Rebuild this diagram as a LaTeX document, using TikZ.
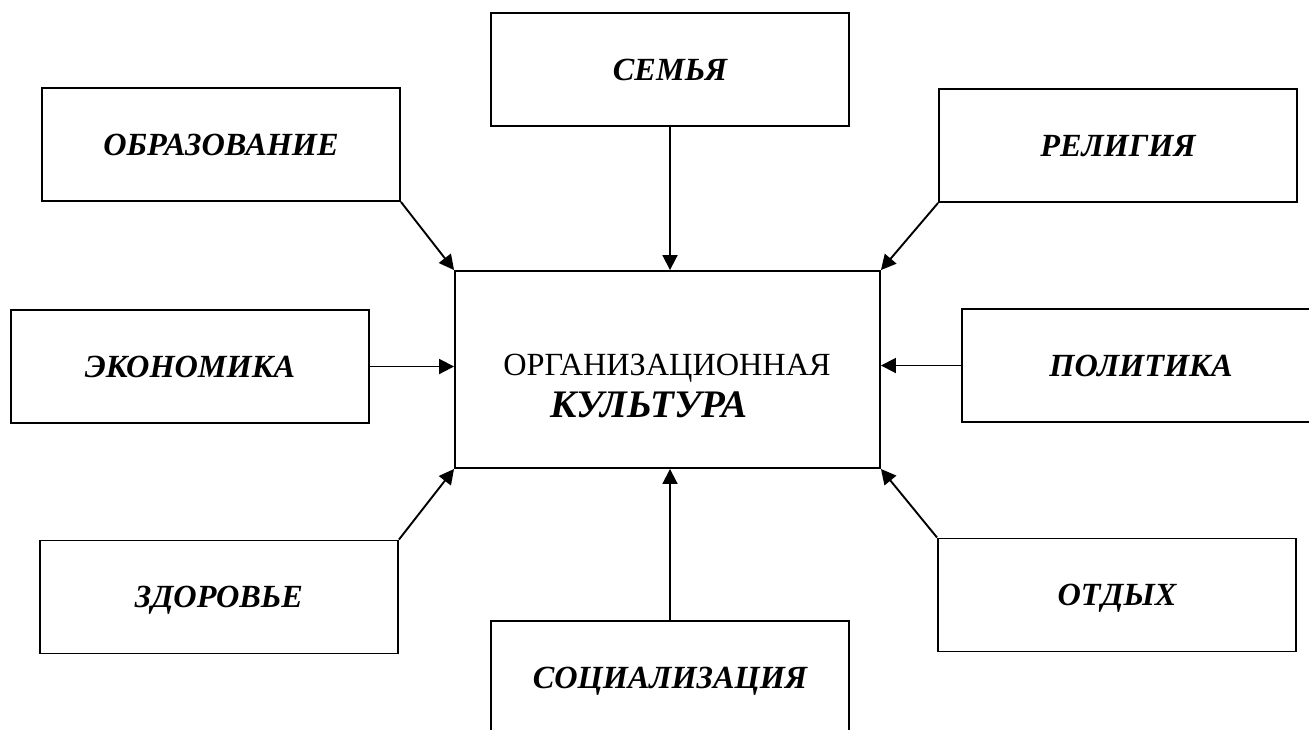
\documentclass[tikz,border=0pt]{standalone}
\usepackage{fontspec}
\setmainfont{Liberation Serif}
\usetikzlibrary{arrows.meta}
\begin{document}
\begin{tikzpicture}[x=1pt,y=-1pt,
  box/.style={draw,line width=1.9pt,minimum width=358pt,minimum height=113pt,inner sep=0pt,
    font=\fontsize{32.3}{38}\selectfont\bfseries\itshape,text height=21pt,text depth=0pt},
  link/.style={line width=1.9pt,-{Triangle[length=15pt,width=15pt]}}]
\useasboundingbox (0,0) rectangle (1309,729);
\clip (0,0) rectangle (1309,729);
\fill[white] (0,0) rectangle (1309,729);
\node[box] (semya) at (670,69.5) {СЕМЬЯ};
\node[box] (obr) at (221,144.5) {ОБРАЗОВАНИЕ};
\node[box] (rel) at (1118,145.5) {РЕЛИГИЯ};
\node[box] (econ) at (190,366.5) {ЭКОНОМИКА};
\node[box] (polit) at (1141,365.5) {ПОЛИТИКА};
\node[box] (zdor) at (219,597) {ЗДОРОВЬЕ};
\node[box] (otdyh) at (1117,595) {ОТДЫХ};
\node[box] (soc) at (670,677.5) {СОЦИАЛИЗАЦИЯ};
\node[draw,line width=1.9pt,minimum width=425pt,minimum height=197pt,inner sep=0pt] (cult) at (667.5,369.5) {};
\node[anchor=base,font=\fontsize{32.3}{38}\selectfont] (org) at (667,375) {ОРГАНИЗАЦИОННАЯ};
\node[anchor=base,font=\fontsize{39}{46}\selectfont\bfseries\itshape] (kult) at (649,417) {КУЛЬТУРА};
\draw[link] (semya.south) -- (semya.south |- cult.north);
\draw[link] (obr.south east) -- (cult.north west);
\draw[link] (rel.south west) -- (cult.north east);
\draw[link] (econ.east) -- (econ.east -| cult.west);
\draw[link] (polit.west) -- (polit.west -| cult.east);
\draw[link] (zdor.north east) -- (cult.south west);
\draw[link] (otdyh.north west) -- (cult.south east);
\draw[link] (soc.north) -- (soc.north |- cult.south);
\end{tikzpicture}
\end{document}
